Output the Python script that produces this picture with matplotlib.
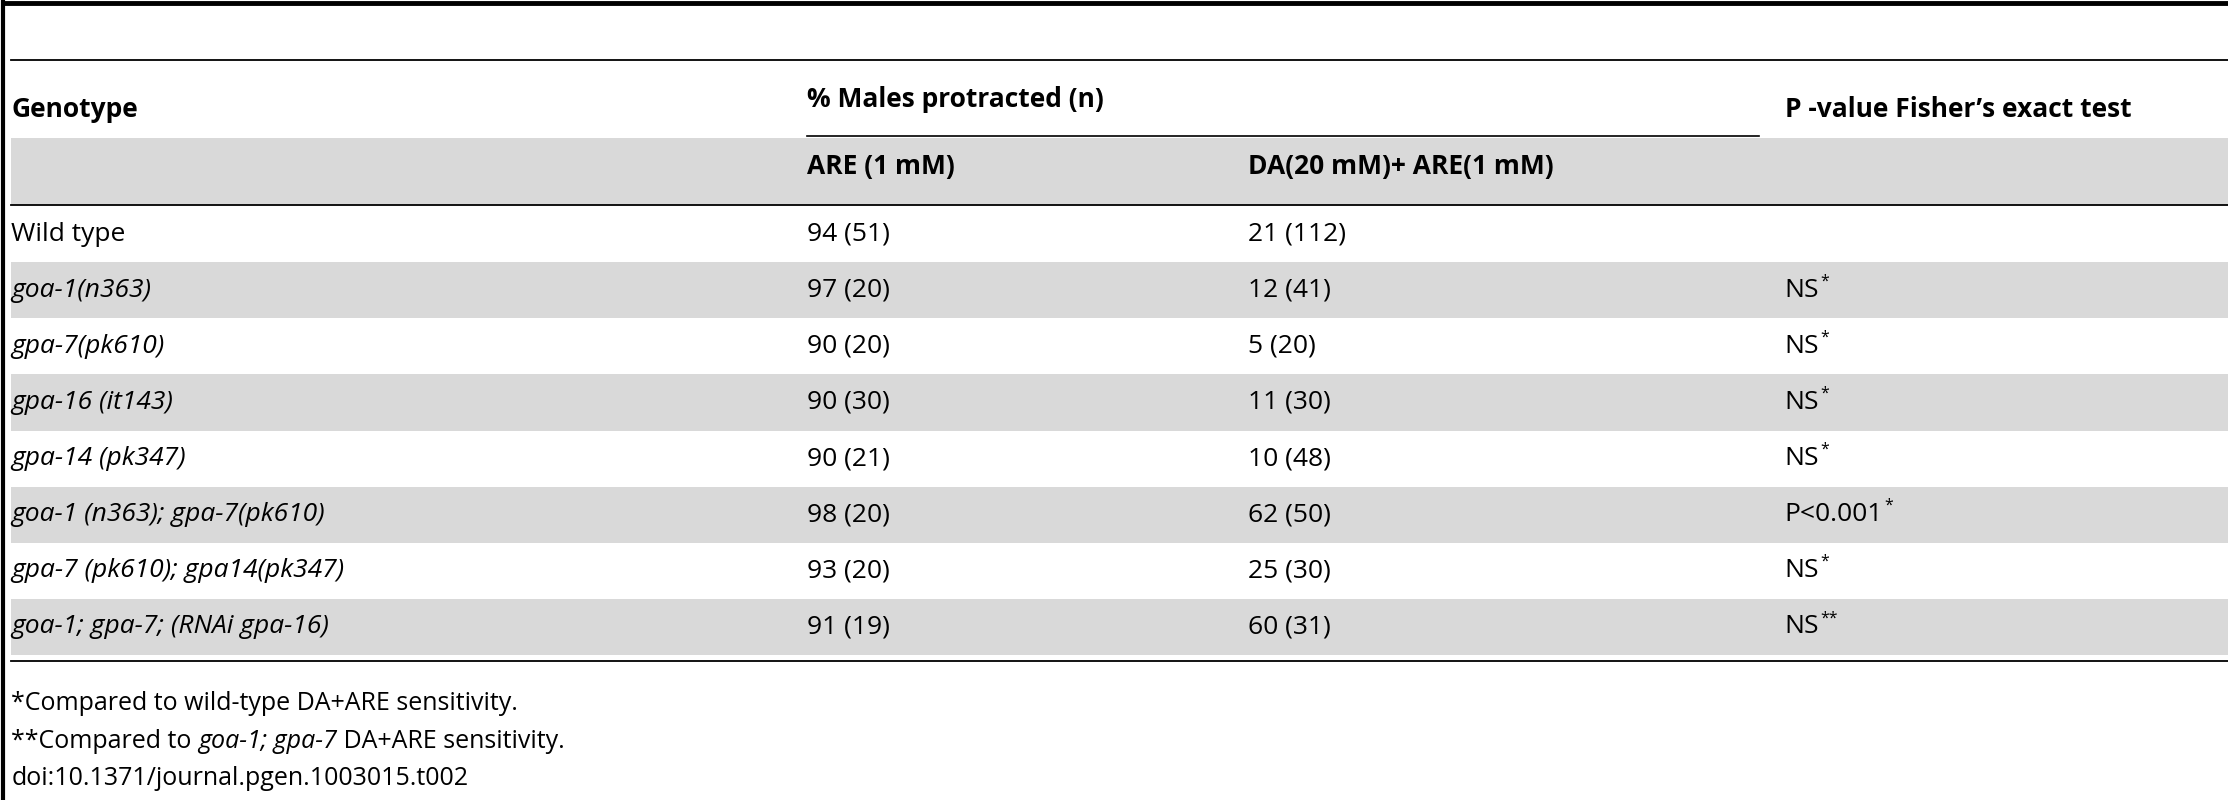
import matplotlib
matplotlib.use("Agg")
import matplotlib.pyplot as plt
from matplotlib.patches import Rectangle

genotypes = ["Wild type", "goa-1(n363)", "gpa-7(pk610)", "gpa-16 (it143)", "gpa-14 (pk347)",
             "goa-1 (n363); gpa-7(pk610)", "gpa-7 (pk610); gpa14(pk347)", "goa-1; gpa-7; (RNAi gpa-16)"]
are_vals = ["94 (51)", "97 (20)", "90 (20)", "90 (30)", "90 (21)", "98 (20)", "93 (20)", "91 (19)"]
da_vals = ["21 (112)", "12 (41)", "5 (20)", "11 (30)", "10 (48)", "62 (50)", "25 (30)", "60 (31)"]
pvals = ["", "NS", "NS", "NS", "NS", "P<0.001", "NS", "NS"]
psup = ["", "*", "*", "*", "*", "*", "*", "**"]

plt.rcParams['font.family'] = ['Open Sans', 'DejaVu Sans']
fig = plt.figure(figsize=(22.28, 8), dpi=100)
ax = fig.add_axes([0, 0, 1, 1])
ax.set_xlim(0, 1568); ax.set_ylim(563, 0); ax.axis('off')
fs = 19
gray = '#d9d9d9'
X = [8, 568, 878, 1256]

ax.plot([2, 1568], [2, 2], color='black', lw=3.5)
ax.plot([2, 2], [0, 563], color='black', lw=3)
ax.plot([8, 1568], [42, 42], color='black', lw=1.3)
ax.add_patch(Rectangle((8, 97), 1560, 47, color=gray, lw=0))
ax.plot([568, 1238], [96, 96], color='black', lw=1.2)
ax.plot([8, 1568], [144, 144], color='black', lw=1.3)

ax.text(X[0], 77, "Genotype", fontsize=fs, fontweight='bold', va='center')
ax.text(X[1], 70, "% Males protracted (n)", fontsize=fs, fontweight='bold', va='center')
ax.text(X[3], 77, "P -value Fisher\u2019s exact test", fontsize=fs, fontweight='bold', va='center')
ax.text(X[1], 117, "ARE (1 mM)", fontsize=fs, fontweight='bold', va='center')
ax.text(X[2], 117, "DA(20 mM)+ ARE(1 mM)", fontsize=fs, fontweight='bold', va='center')

rh = 39.5
for i, g in enumerate(genotypes):
    top = 145 + i * rh
    yc = top + rh / 2
    if i % 2 == 1:
        ax.add_patch(Rectangle((8, top), 1560, rh, color=gray, lw=0))
    ax.text(X[0], yc, g, fontsize=fs, style='normal' if i == 0 else 'italic', va='center')
    ax.text(X[1], yc, are_vals[i], fontsize=fs, va='center')
    ax.text(X[2], yc, da_vals[i], fontsize=fs, va='center')
    if pvals[i]:
        t = ax.text(X[3], yc, pvals[i], fontsize=fs, va='center')
        ax.annotate(psup[i], xy=(1, 0.85), xycoords=t, fontsize=fs * 0.6,
                    va='center', ha='left', xytext=(1, 0), textcoords='offset points')
ax.plot([8, 1568], [465, 465], color='black', lw=1.3)

fs2 = fs - 1
ax.text(8, 495, "*Compared to wild-type DA+ARE sensitivity.", fontsize=fs2, va='center')
t1 = ax.text(8, 522, "**Compared to ", fontsize=fs2, va='center')
t2 = ax.annotate("goa-1; gpa-7", xy=(1, 0.5), xycoords=t1, fontsize=fs2, style='italic', va='center', ha='left')
ax.annotate(" DA+ARE sensitivity.", xy=(1, 0.5), xycoords=t2, fontsize=fs2, va='center', ha='left')
ax.text(8, 548, "doi:10.1371/journal.pgen.1003015.t002", fontsize=fs2, va='center')

fig.savefig("out.png", dpi=100)
